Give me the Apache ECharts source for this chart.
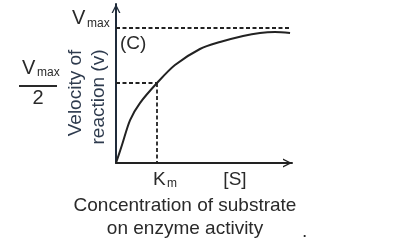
<!DOCTYPE html>
<html>
<head>
<meta charset="utf-8">
<script src="https://cdn.jsdelivr.net/npm/echarts@6/dist/echarts.min.js"></script>
<style>
html,body{margin:0;padding:0;background:#fff;}
#c{width:401px;height:244px;}
</style>
</head>
<body>
<div id="c"></div>
<script>
// Substrate concentration [S] (arbitrary units) and reaction velocity v (arbitrary units)
var substrate = [0, 0.34, 0.80, 1.36, 2.33, 3.35, 4.77, 5.91, 7.22, 8.18, 9.03, 9.89];
var velocity  = [0, 1.13, 2.70, 3.77, 5.03, 6.16, 7.17, 7.61, 7.99, 8.18, 8.24, 8.18];
var vmax = 8.49;
var halfVmax = 5.03;
var km = 2.33;
var sLabelX = 6.76;
var labels = {
  vmax: ['V', 'max'],
  half: ['V', 'max', '2'],
  c: '(C)',
  km: ['K', 'm'],
  s: '[S]',
  yTitle: ['Velocity of', 'reaction (v)'],
  xTitle: ['Concentration of substrate', 'on enzyme activity']
};

var FONT = '"Liberation Sans", Arial, sans-serif';
var INK = '#222222';
var chart = echarts.init(document.getElementById('c'), null, {renderer: 'canvas'});
var arrowPath = 'path://M0,10 L5,0 L10,10 L8.4,10 L5,3.2 L1.6,10 Z';

var curve = substrate.map(function (s, i) { return [s, velocity[i]]; });
var dash = {color: INK, width: 1.8, type: [4, 2.5]};

chart.setOption({
  animation: false,
  grid: {left: 116, right: 109, top: 4, bottom: 81, containLabel: false},
  xAxis: {
    type: 'value', min: 0, max: 10,
    axisLine: {show: true, symbol: ['none', arrowPath], symbolSize: [12, 9], symbolOffset: [0, -4.5],
      lineStyle: {color: INK, width: 2}},
    axisTick: {show: false}, axisLabel: {show: false}, splitLine: {show: false}
  },
  yAxis: {
    type: 'value', min: 0, max: 10,
    axisLine: {show: true, symbol: ['none', arrowPath], symbolSize: [12, 9], symbolOffset: [0, -4.5],
      lineStyle: {color: '#1f2b3a', width: 2}},
    axisTick: {show: false}, axisLabel: {show: false}, splitLine: {show: false}
  },
  series: [{
    type: 'line',
    data: curve,
    smooth: 0.3,
    showSymbol: false,
    lineStyle: {color: INK, width: 2},
    markLine: {
      silent: true,
      symbol: 'none',
      label: {show: false},
      lineStyle: dash,
      data: [
        [{coord: [0, vmax]}, {coord: [substrate[substrate.length - 1], vmax]}],
        [{coord: [0, halfVmax]}, {coord: [km, halfVmax]}],
        [{coord: [km, halfVmax]}, {coord: [km, 0]}]
      ]
    }
  }]
});

function px(x, y) { return chart.convertToPixel({gridIndex: 0}, [x, y]); }
var pV = px(0, vmax), pH = px(0, halfVmax), pK = px(km, 0), pS = px(sLabelX, 0);
function txt(text, x, y, size, opts) {
  var o = opts || {};
  return {
    type: 'text', x: x, y: y, rotation: o.rot || 0, silent: true,
    style: {text: text, fill: o.fill || '#2a2a2a', font: size + 'px ' + FONT,
      align: o.align || 'left', verticalAlign: o.va || 'top'}
  };
}
var g = [];
// Vmax at top
g.push(txt(labels.vmax[0], 72, pV[1] - 20, 20));
g.push(txt(labels.vmax[1], 87, pV[1] - 10, 12));
// Vmax / 2
g.push(txt(labels.half[0], 22, pH[1] - 25, 20));
g.push(txt(labels.half[1], 37, pH[1] - 16, 12));
g.push({type: 'line', silent: true, shape: {x1: 19, y1: pH[1] + 3, x2: 57, y2: pH[1] + 3},
  style: {stroke: '#2a2a2a', lineWidth: 2}});
g.push(txt(labels.half[2], 38, pH[1] + 5, 20, {align: 'center'}));
// (C)
g.push(txt(labels.c, 120, pV[1] + 6, 19));
// Km and [S]
g.push(txt(labels.km[0], pK[0] - 4, pK[1] + 7, 19));
g.push(txt(labels.km[1], pK[0] + 10, pK[1] + 15, 12));
g.push(txt(labels.s, pS[0], pS[1] + 7, 19, {align: 'center'}));
// Y title (rotated)
g.push(txt(labels.yTitle[0], 76, 93, 19, {rot: Math.PI / 2, align: 'center', va: 'middle', fill: '#2e3b4e'}));
g.push(txt(labels.yTitle[1], 99, 97, 19, {rot: Math.PI / 2, align: 'center', va: 'middle', fill: '#2e3b4e'}));
// X title
g.push(txt(labels.xTitle[0], 185, 196, 19, {align: 'center'}));
g.push(txt(labels.xTitle[1], 185, 219, 19, {align: 'center'}));
g.push(txt('.', 302, 222, 19));
chart.setOption({graphic: g});
</script>
</body>
</html>
